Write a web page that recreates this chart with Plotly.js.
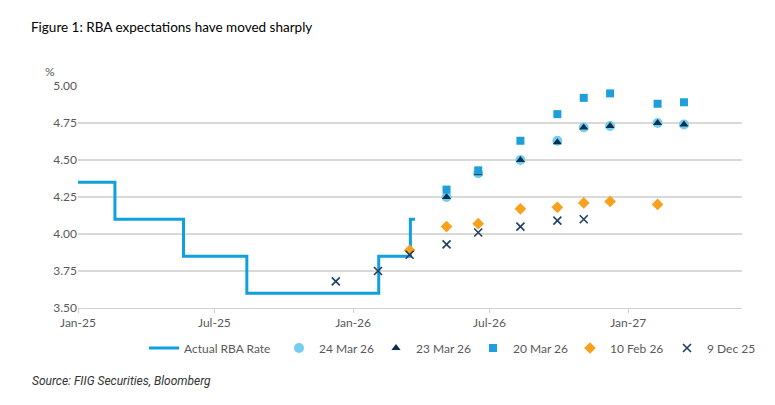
<!DOCTYPE html>
<html>
<head>
<meta charset="utf-8">
<script src="https://cdn.plot.ly/plotly-3.0.1.min.js"></script>
<style>html,body{margin:0;padding:0;background:#fff;}#chart{width:775px;height:405px;}</style>
</head>
<body>
<div id="chart"></div>
<script>
// Actual RBA cash rate (step changes)
const actualDates = ['2025-01-01','2025-02-19','2025-05-21','2025-08-13','2026-02-04','2026-03-18','2026-03-24'];
const actualRate  = [4.35, 4.10, 3.85, 3.60, 3.85, 4.10, 4.10];

// Market-implied expectations at RBA meeting dates
const meetDates = ['2026-05-05','2026-06-16','2026-08-11','2026-09-29','2026-11-03','2026-12-08','2027-02-09','2027-03-16'];
const exp24Mar26 = [4.25, 4.41, 4.50, 4.63, 4.72, 4.73, 4.75, 4.74];
const exp23Mar26 = [4.25, 4.41, 4.50, 4.62, 4.72, 4.73, 4.75, 4.74];
const exp20Mar26 = [4.30, 4.43, 4.63, 4.81, 4.92, 4.95, 4.88, 4.89];

const feb26Dates = ['2026-03-17','2026-05-05','2026-06-16','2026-08-11','2026-09-29','2026-11-03','2026-12-08','2027-02-09'];
const exp10Feb26 = [3.89, 4.05, 4.07, 4.17, 4.18, 4.21, 4.22, 4.20];

const dec25Dates = ['2025-12-09','2026-02-03','2026-03-17','2026-05-05','2026-06-16','2026-08-11','2026-09-29','2026-11-03'];
const exp9Dec25  = [3.68, 3.75, 3.86, 3.93, 4.01, 4.05, 4.09, 4.10];

const yTicks = [3.50, 3.75, 4.00, 4.25, 4.50, 4.75, 5.00];

const FONT = 'Lato, "Open Sans", sans-serif';
const GREY = '#595959';

const traces = [
  {x: actualDates, y: actualRate, name: 'Actual RBA Rate', type: 'scatter', mode: 'lines',
   line: {shape: 'hv', color: '#0FA0E0', width: 3}, legend: 'legend'},
  {x: meetDates, y: exp24Mar26, name: '24 Mar 26', type: 'scatter', mode: 'markers',
   marker: {symbol: 'circle', color: '#74CEF0', size: 10}, legend: 'legend2'},
  {x: meetDates, y: exp23Mar26, name: '23 Mar 26', type: 'scatter', mode: 'markers',
   marker: {symbol: 'triangle-up', color: '#0B2F4E', size: 8}, legend: 'legend2'},
  {x: meetDates, y: exp20Mar26, name: '20 Mar 26', type: 'scatter', mode: 'markers',
   marker: {symbol: 'square', color: '#1E9FDB', size: 8}, legend: 'legend2'},
  {x: feb26Dates, y: exp10Feb26, name: '10 Feb 26', type: 'scatter', mode: 'markers',
   marker: {symbol: 'diamond', color: '#F7A11C', size: 9}, legend: 'legend2'},
  {x: dec25Dates, y: exp9Dec25, name: '9 Dec 25', type: 'scatter', mode: 'markers',
   marker: {symbol: 'x-thin', color: '#1F3F62', size: 8, line: {width: 1.6, color: '#1F3F62'}}, legend: 'legend2'}
];

const layout = {
  width: 775, height: 405,
  margin: {l: 78, r: 33, t: 86, b: 97, autoexpand: false},
  paper_bgcolor: '#fff', plot_bgcolor: '#fff',
  font: {family: FONT, size: 12, color: GREY},
  title: {text: 'Figure 1: RBA expectations have moved sharply', x: 31/775, xanchor: 'left',
          y: 1 - 27/405, yanchor: 'middle', yref: 'container',
          font: {family: FONT, size: 13.5, color: '#000'}},
  xaxis: {type: 'date', range: ['2025-01-01', '2027-06-01'], tick0: '2025-01-01', dtick: 'M6',
          tickformat: '%b-%y', showgrid: false, zeroline: false,
          showline: true, linecolor: '#d0d0d0', linewidth: 1,
          ticks: 'outside', ticklen: 4, tickcolor: '#d0d0d0',
          tickfont: {family: FONT, size: 12, color: GREY}},
  yaxis: {range: [3.5, 5.0], tickvals: yTicks, tickformat: '.2f', showgrid: true,
          gridcolor: '#d9d9d9', gridwidth: 1.5, zeroline: false, showline: false,
          ticks: '', ticklen: 0, tickfont: {family: FONT, size: 12, color: GREY}},
  showlegend: true,
  legend: {orientation: 'h', x: (144 - 78)/664, xanchor: 'left', y: (308 - 348)/222, yanchor: 'middle',
           font: {family: FONT, size: 12, color: GREY}, bgcolor: 'rgba(0,0,0,0)'},
  legend2: {orientation: 'h', x: (279 - 78)/664, xanchor: 'left', y: (308 - 348)/222, yanchor: 'middle',
            entrywidth: 52, entrywidthmode: 'pixels', traceorder: 'normal',
            font: {family: FONT, size: 12, color: GREY}, bgcolor: 'rgba(0,0,0,0)'},
  annotations: [
    {text: '%', xref: 'paper', yref: 'paper', x: (50 - 78)/664, y: (308 - 71)/222,
     xanchor: 'center', yanchor: 'middle', showarrow: false, font: {family: FONT, size: 12, color: GREY}},
    {text: '<i>Source: FIIG Securities, Bloomberg</i>', xref: 'paper', yref: 'paper',
     x: (30 - 78)/664, y: (308 - 381)/222, xanchor: 'left', yanchor: 'middle', showarrow: false,
     font: {family: 'Roboto, sans-serif', size: 12, color: '#333'}}
  ]
};

Plotly.newPlot('chart', traces, layout, {displayModeBar: false, staticPlot: true});
</script>
</body>
</html>
